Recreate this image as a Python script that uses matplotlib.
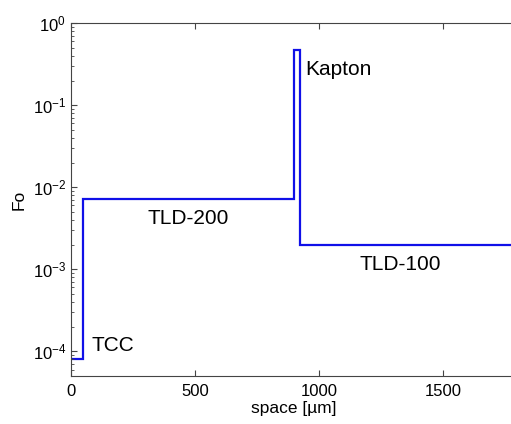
import numpy as np
from matplotlib import pyplot as plt

# layer boundaries (um) and Fourier number per layer
EDGES = [0, 50, 900, 925, 1800]
FO = [8e-5, 7.2e-3, 0.47, 2e-3]

LABELS = ["TCC", "TLD-200", "Kapton", "TLD-100"]
LABEL_X = [83, 472, 944, 1327]
LABEL_Y = [1.18e-4, 4.2e-3, 0.27, 1.15e-3]
LABEL_HA = ["left", "center", "left", "center"]

plt.rcParams["font.family"] = ["Liberation Sans", "DejaVu Sans"]
plt.rcParams["mathtext.fontset"] = "custom"
plt.rcParams["mathtext.rm"] = "Liberation Sans"
plt.rcParams["mathtext.it"] = "Liberation Sans:italic"

fig = plt.figure(figsize=(5.11, 4.24), dpi=100)
ax = fig.add_axes([0.139, 0.1132, 0.8736, 0.832])

ax.stairs(FO, EDGES, color="#1010e8", linewidth=1.6, baseline=None)

for name, x, y, ha in zip(LABELS, LABEL_X, LABEL_Y, LABEL_HA):
    ax.text(x, y, name, ha=ha, va="center", fontsize=15)

ax.set_yscale("log")
ax.set_xlim(0, 1800)
ax.set_ylim(5e-5, 1)
ax.set_xticks([0, 500, 1000, 1500])
ax.set_xlabel("space [\u00b5m]", fontsize=12.5, labelpad=1)
ax.set_ylabel("Fo", fontsize=12.5, labelpad=4)

for s in ax.spines.values():
    s.set_color("#444444")
ax.tick_params(which="both", direction="in", top=True, right=True,
               colors="#444444", labelcolor="black", labelsize=12)
ax.tick_params(which="major", length=4)
ax.tick_params(which="minor", length=2)
ax.tick_params(axis="x", which="major", pad=6)
ax.tick_params(axis="x", which="minor", bottom=False, top=False)

fig.savefig("out.png", dpi=100)
